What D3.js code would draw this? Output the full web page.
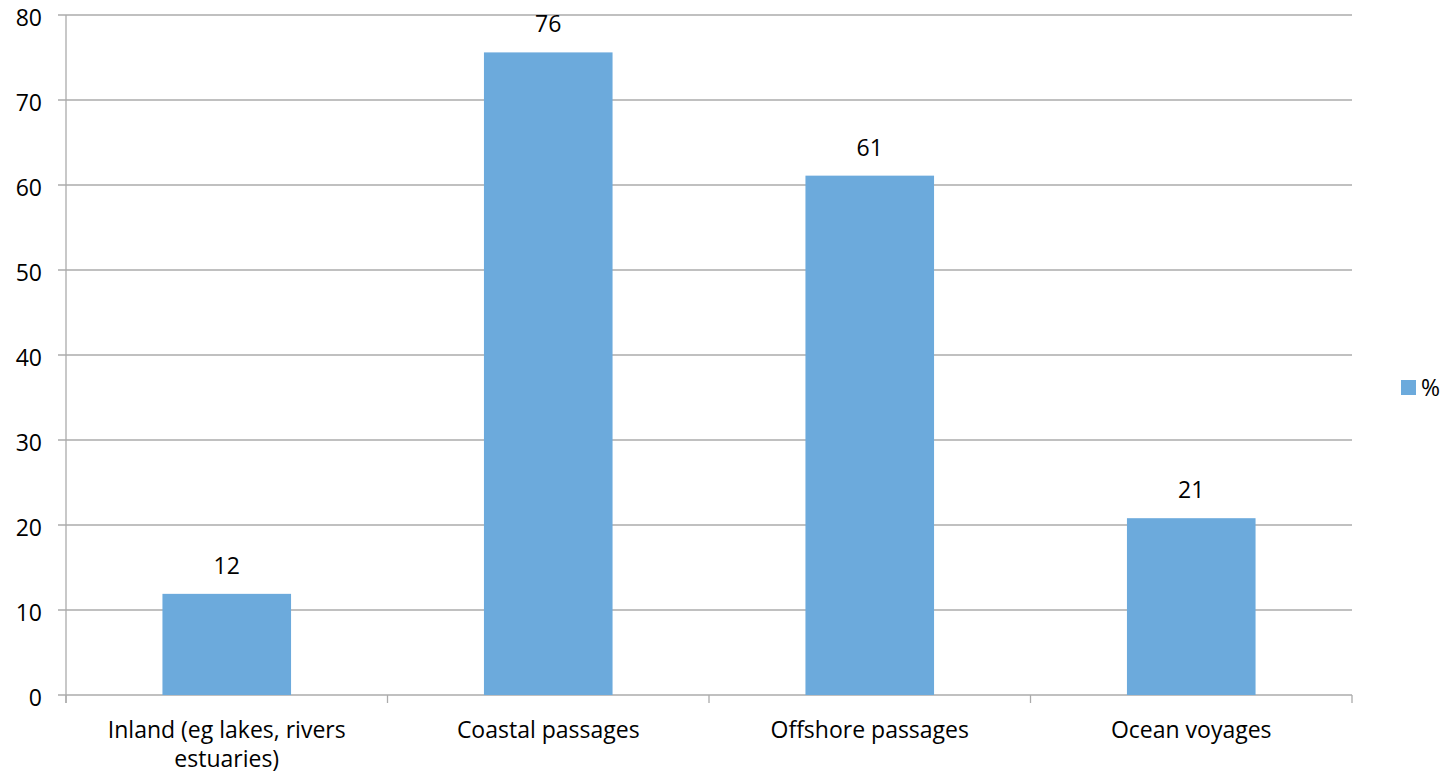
<!DOCTYPE html>
<html><head><meta charset="utf-8">
<script src="https://cdn.jsdelivr.net/npm/d3@7"></script>
<style>body{margin:0;background:#fff}svg{display:block}text{font-family:"Open Sans",sans-serif;fill:#000}</style>
</head><body><svg id="c" width="1445" height="775"></svg>
<script>
const categories = ["Inland (eg lakes, rivers|estuaries)", "Coastal passages", "Offshore passages", "Ocean voyages"];
const values = [11.9, 75.6, 61.1, 20.8];
const labels = ["12", "76", "61", "21"];
const yTicks = [0, 10, 20, 30, 40, 50, 60, 70, 80];
const seriesName = "%";

const svg = d3.select("#c");
const L = 66, R = 1352, T = 15, B = 695;
const FS = "23px";
const x = d3.scaleBand().domain(categories).range([L, R]).paddingInner(0.6).paddingOuter(0.3);
const xb = d3.scaleBand().domain(categories).range([L, R]);
const y = d3.scaleLinear().domain([0, 80]).range([B, T]);
const grid = "#ababab";

svg.append("g").selectAll("line").data(yTicks).join("line")
  .attr("x1", L - 8).attr("x2", R).attr("y1", d => y(d)).attr("y2", d => y(d))
  .attr("stroke", grid).attr("stroke-width", 1.3);
svg.append("line").attr("x1", L).attr("x2", L).attr("y1", T).attr("y2", B + 8).attr("stroke", grid).attr("stroke-width", 1.3);
const xt = categories.map(c => xb(c)).concat([R]);
svg.append("g").selectAll("line").data(xt).join("line")
  .attr("x1", d => d).attr("x2", d => d).attr("y1", B).attr("y2", B + 8).attr("stroke", grid).attr("stroke-width", 1.3);

svg.append("g").selectAll("text").data(yTicks).join("text")
  .attr("x", L - 24).attr("y", d => y(d) + 11).attr("text-anchor", "end")
  .style("font-size", FS).text(d => d);

svg.append("g").selectAll("rect").data(values).join("rect")
  .attr("x", (d, i) => x(categories[i])).attr("width", x.bandwidth())
  .attr("y", d => y(d)).attr("height", d => y(0) - y(d)).attr("fill", "#6caadc");

svg.append("g").selectAll("text").data(values).join("text")
  .attr("x", (d, i) => x(categories[i]) + x.bandwidth() / 2).attr("y", d => y(d) - 20)
  .attr("text-anchor", "middle").style("font-size", FS).text((d, i) => labels[i]);

const xl = svg.append("g").selectAll("text").data(categories).join("text")
  .attr("x", d => xb(d) + xb.bandwidth() / 2).attr("y", B + 43)
  .attr("text-anchor", "middle").style("font-size", FS);
xl.each(function(d) {
  const parts = d.split("|");
  d3.select(this).selectAll("tspan").data(parts).join("tspan")
    .attr("x", xb(d) + xb.bandwidth() / 2).attr("dy", (p, i) => i ? 29 : 0).text(p => p);
});

svg.append("rect").attr("x", 1401).attr("y", 380).attr("width", 15).attr("height", 15).attr("fill", "#6caadc");
svg.append("text").attr("x", 1421).attr("y", 388).attr("dy", "0.35em").style("font-size", FS).text(seriesName);
</script></body></html>
